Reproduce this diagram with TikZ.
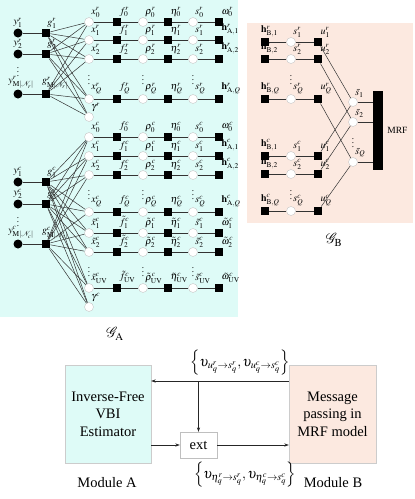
\documentclass[tikz,border=0pt]{standalone}
\usepackage{mathptmx}
\usepackage{fontspec}
\setmainfont{Liberation Serif}
\usetikzlibrary{arrows.meta,calc}
\definecolor{cya}{RGB}{222,251,247}
\definecolor{pnk}{RGB}{252,233,224}
\tikzset{
  bsq/.style={rectangle, fill=black, minimum size=8.5pt, inner sep=0pt},
  bci/.style={circle, fill=black, minimum size=9pt, inner sep=0pt},
  wci/.style={circle, fill=white, draw=gray!45, line width=0.4pt, minimum size=9pt, inner sep=0pt},
  lbl/.style={font=\fontsize{10}{11}\selectfont, inner sep=0.3pt},
  L/.style={label={[lbl]65:{#1}}},
  ln/.style={draw=black!80, line width=0.5pt},
  dts/.style={font=\fontsize{9}{9}\selectfont, inner sep=0pt},
  arr/.style={draw=black!85, line width=0.6pt, -{Stealth[length=4.5pt,width=3.2pt]}},
  big/.style={font=\fontsize{14.5}{17.5}\selectfont},
}
\newcommand{\garow}[6]{%
  \node[wci,L={$#6{x}_{#3}^{#4}$}] (x#1) at (89,#2) {};
  \node[bsq,L={$#6{f}_{#3}^{#4}$}] (f#1) at (117,#2) {};
  \node[wci,L={$#6{\rho}_{#3}^{#4}$}] (r#1) at (143,#2) {};
  \node[bsq,L={$#6{\eta}_{#3}^{#4}$}] (e#1) at (168,#2) {};
  \node[wci,L={$#6{s}_{#3}^{#4}$}] (s#1) at (193,#2) {};
  \node[bsq,L={$#5$}] (w#1) at (219,#2) {};
  \draw[ln] (x#1) -- (f#1) -- (r#1) -- (e#1) -- (s#1) -- (w#1);
}
\newcommand{\gbrow}[4]{%
  \node[bsq,label={[lbl,anchor=south west]north west:$\mathbf{h}^{#4}_{\mathrm{B},#3}$}] (h#1) at (265,#2) {};
  \node[wci,L={$s_{#3}^{#4}$}] (q#1) at (291,#2) {};
  \node[bsq,L={$u_{#3}^{#4}$}] (u#1) at (318,#2) {};
  \draw[ln] (h#1) -- (q#1) -- (u#1);
}
\begin{document}
\begin{tikzpicture}[x=1pt,y=-1pt]
\useasboundingbox (0,0) rectangle (415,499);
% panels
\fill[cya] (0,0) rectangle (238,317);
\fill[pnk] (247,23) rectangle (413,223);
\node[big] (GA) at (115,334) {$\mathcal{G}_{\mathrm{A}}$};
\node[big] (GB) at (334,240) {$\mathcal{G}_{\mathrm{B}}$};
% ---------- G_A, r part
\garow{0r}{22}{0}{r}{\omega_0^r}{}
\garow{1r}{40}{1}{r}{\mathbf{h}^r_{\mathrm{A},1}}{}
\garow{2r}{59}{2}{r}{\mathbf{h}^r_{\mathrm{A},2}}{}
\garow{Qr}{99}{Q}{r}{\mathbf{h}^r_{\mathrm{A},Q}}{}
\node[wci,L={$\gamma^r$}] (gmr) at (89,117) {};
\node[bci,label={[lbl]90:$y_1^r$}] (y1r) at (18,33) {};
\node[bsq,label={[lbl]80:$g_1^r$}] (g1r) at (46,33) {};
\node[bci,label={[lbl]90:$y_2^r$}] (y2r) at (18,54) {};
\node[bsq,label={[lbl]80:$g_2^r$}] (g2r) at (46,54) {};
\node[bci,label={[lbl,xshift=3pt]90:$y^r_{\mathrm{M}|\mathcal{N}_r|}$}] (yMr) at (18,94) {};
\node[bsq,label={[lbl,anchor=south west]north west:$g^r_{\mathrm{M}|\mathcal{N}_r|}$}] (gMr) at (46,94) {};
\foreach \k in {1,2,M} \draw[ln] (y\k r) -- (g\k r);
\foreach \a in {g1r,g2r,gMr}
  \foreach \b in {x0r,x1r,x2r,xQr,gmr}
    \draw[ln] (\a) -- (\b);
\node[dts] (d1) at (18,69) {$\vdots$};
\node[dts] (d2) at (89,77) {$\vdots$};
\node[dts] (d3) at (143,77) {$\vdots$};
\node[dts] (d4) at (193,77) {$\vdots$};
% ---------- G_A, c part
\garow{0c}{137}{0}{c}{\omega_0^c}{}
\garow{1c}{156}{1}{c}{\mathbf{h}^c_{\mathrm{A},1}}{}
\garow{2c}{175}{2}{c}{\mathbf{h}^c_{\mathrm{A},2}}{}
\garow{Qc}{212}{Q}{c}{\mathbf{h}^c_{\mathrm{A},Q}}{}
\garow{t1}{233}{1}{c}{\tilde{\omega}_1^c}{\tilde}
\garow{t2}{252}{2}{c}{\tilde{\omega}_2^c}{\tilde}
\garow{tU}{288}{\mathrm{UV}}{c}{\tilde{\omega}_{\mathrm{UV}}^c}{\tilde}
\node[wci,L={$\gamma^c$}] (gmc) at (89,307) {};
\node[bci,label={[lbl]90:$y_1^c$}] (y1c) at (18,182) {};
\node[bsq,label={[lbl]80:$g_1^c$}] (g1c) at (46,182) {};
\node[bci,label={[lbl]90:$y_2^c$}] (y2c) at (18,204) {};
\node[bsq,label={[lbl]80:$g_2^c$}] (g2c) at (46,204) {};
\node[bci,label={[lbl,xshift=3pt]90:$y^c_{\mathrm{M}|\mathcal{N}_c|}$}] (yMc) at (18,244) {};
\node[bsq,label={[lbl,anchor=south west]north west:$g^c_{\mathrm{M}|\mathcal{N}_c|}$}] (gMc) at (46,244) {};
\foreach \k in {1,2,M} \draw[ln] (y\k c) -- (g\k c);
\foreach \a in {g1c,g2c,gMc}
  \foreach \b in {x0c,x1c,x2c,xQc,xt1,xt2,xtU,gmc}
    \draw[ln] (\a) -- (\b);
\node[dts] (d5) at (18,219) {$\vdots$};
\node[dts] (d6) at (89,192) {$\vdots$};
\node[dts] (d7) at (143,192) {$\vdots$};
\node[dts] (d8) at (193,192) {$\vdots$};
\node[dts] (d9) at (89,269) {$\vdots$};
\node[dts] (d10) at (143,269) {$\vdots$};
\node[dts] (d11) at (193,269) {$\vdots$};
% ---------- G_B
\gbrow{1r}{42}{1}{r}
\gbrow{2r}{59}{2}{r}
\gbrow{Qr}{99}{Q}{r}
\gbrow{1c}{156}{1}{c}
\gbrow{2c}{174}{2}{c}
\gbrow{Qc}{211}{Q}{c}
\node[dts] (d12) at (291,77) {$\vdots$};
\node[dts] (d13) at (291,192) {$\vdots$};
\node[wci,L={$\bar{s}_1$}] (sb1) at (353,102) {};
\node[wci,L={$\bar{s}_2$}] (sb2) at (353,122) {};
\node[wci,L={$\bar{s}_Q$}] (sbQ) at (353,162) {};
\node[dts] (d14) at (353,140) {$\vdots$};
\node[fill=black, minimum width=10pt, minimum height=79pt, inner sep=0pt] (mrf) at (378,130.5) {};
\node[anchor=west, font=\fontsize{9.5}{10}\selectfont, inner sep=0pt] (mrft) at ([xshift=4pt]mrf.east) {MRF};
\foreach \k in {1,2,Q} {
  \draw[ln] (sb\k) -- (sb\k -| mrf.west);
  \draw[ln] (u\k r) -- (sb\k);
  \draw[ln] (u\k c) -- (sb\k);
}
% ---------- modules
\node[big, fill=cya, draw=gray!40, line width=0.4pt, minimum width=86pt, minimum height=98pt, align=center] (mA) at (108,414) {Inverse-Free\\VBI\\Estimator};
\node[big, fill=pnk, draw=gray!40, line width=0.4pt, minimum width=87pt, minimum height=98pt, align=center] (mB) at (332.5,414) {Message\\passing in\\MRF model};
\node[big, fill=white, draw=gray!50, line width=0.4pt, minimum width=37pt, minimum height=26pt, inner sep=0pt] (ext) at (198.5,445) {ext};
\node[big] (modA) at (107,483) {Module A};
\node[big] (modB) at (333,483) {Module B};
\coordinate (tly) at (0,381);
\draw[arr] (mB.west |- tly) -- (mA.east |- tly);
\draw[arr] (ext.north |- tly) -- (ext.north);
\draw[arr] (mA.east |- ext.west) -- (ext.west);
\draw[arr] (ext.east) -- (mB.west |- ext.east);
\node[font=\fontsize{14}{16}\selectfont] (topl) at (240,363) {$\left\{\upsilon_{u_q^r\rightarrow s_q^r},\upsilon_{u_q^c\rightarrow s_q^c}\right\}$};
\node[font=\fontsize{14}{16}\selectfont] (botl) at (245,475) {$\left\{\upsilon_{\eta_q^r\rightarrow s_q^r},\upsilon_{\eta_q^c\rightarrow s_q^c}\right\}$};
\end{tikzpicture}
\end{document}
